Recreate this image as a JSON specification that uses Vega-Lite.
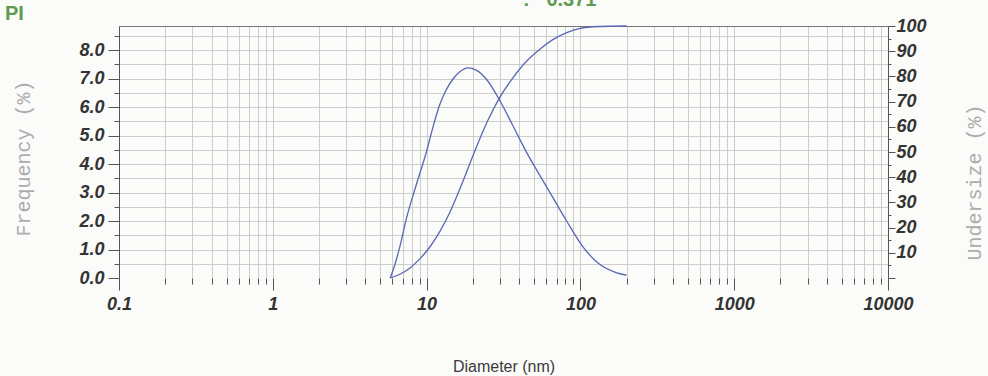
{
  "$schema": "https://vega.github.io/schema/vega-lite/v6.json",
  "width": 769,
  "height": 252,
  "autosize": "none",
  "padding": {"left": 119, "top": 26, "right": 100, "bottom": 98},
  "background": "#fbfbf9",
  "view": {"stroke": null},
  "datasets": {
    "freq": [
      {"d": 5.8, "f": 0},
      {"d": 6.2, "f": 0.45},
      {"d": 6.7, "f": 1.1},
      {"d": 7.4, "f": 2.1},
      {"d": 8.6, "f": 3.3},
      {"d": 10, "f": 4.45},
      {"d": 11, "f": 5.3},
      {"d": 12.1, "f": 6.05},
      {"d": 13.4, "f": 6.6},
      {"d": 14.8, "f": 6.98},
      {"d": 16.5, "f": 7.25},
      {"d": 18.5, "f": 7.38},
      {"d": 21, "f": 7.3},
      {"d": 24.5, "f": 6.98},
      {"d": 29.8, "f": 6.25},
      {"d": 36, "f": 5.4},
      {"d": 44.6, "f": 4.42},
      {"d": 60, "f": 3.22},
      {"d": 81, "f": 2.02},
      {"d": 103, "f": 1.12},
      {"d": 132, "f": 0.5},
      {"d": 169, "f": 0.2},
      {"d": 200, "f": 0.1}
    ],
    "under": [
      {"d": 5.8, "u": 0},
      {"d": 6.7, "u": 1.5},
      {"d": 7.8, "u": 4},
      {"d": 9, "u": 7.5},
      {"d": 10.5, "u": 12.3},
      {"d": 12.2, "u": 18.5},
      {"d": 14.1, "u": 25.8},
      {"d": 16.5, "u": 35.5},
      {"d": 19, "u": 45},
      {"d": 21.1, "u": 52},
      {"d": 25, "u": 62.5},
      {"d": 29.8, "u": 71.5},
      {"d": 36, "u": 79},
      {"d": 44.6, "u": 86},
      {"d": 55, "u": 91},
      {"d": 65.8, "u": 94.5},
      {"d": 80, "u": 97.2},
      {"d": 98, "u": 99},
      {"d": 132, "u": 99.8},
      {"d": 200, "u": 100}
    ]
  },
  "layer": [
    {
      "data": {"name": "freq"},
      "mark": {"type": "line", "interpolate": "monotone", "color": "#5a67b5", "strokeWidth": 1.3},
      "encoding": {
        "x": {
          "field": "d",
          "type": "quantitative",
          "scale": {"type": "log", "domain": [0.1, 10000]},
          "axis": {
            "values": [0.1, 0.2, 0.3, 0.4, 0.5, 0.6, 0.7, 0.8, 0.9, 1, 2, 3, 4, 5, 6, 7, 8, 9, 10, 20, 30, 40, 50, 60, 70, 80, 90, 100, 200, 300, 400, 500, 600, 700, 800, 900, 1000, 2000, 3000, 4000, 5000, 6000, 7000, 8000, 9000, 10000],
            "format": "~g",
            "labelExpr": "abs(log(datum.value)/LN10 - round(log(datum.value)/LN10)) < 0.001 ? datum.label : ''",
            "labelOverlap": false,
            "labelFlush": false,
            "labelFont": "Liberation Sans",
            "labelFontStyle": "italic",
            "labelFontWeight": "bold",
            "labelFontSize": 18,
            "labelColor": "#333333",
            "labelPadding": 5,
            "grid": true,
            "gridColor": "#c2c2c2",
            "gridWidth": 0.8,
            "domain": false,
            "ticks": true,
            "tickColor": "#555555",
            "tickSize": {"condition": {"test": "abs(log(datum.value)/LN10 - round(log(datum.value)/LN10)) < 0.001", "value": 12}, "value": 6},
            "title": "Diameter (nm)",
            "titleFont": "Liberation Sans",
            "titleFontWeight": "normal",
            "titleFontSize": 16,
            "titleColor": "#3a3a3a",
            "titlePadding": 45
          }
        },
        "y": {
          "field": "f",
          "type": "quantitative",
          "scale": {"domain": [0, 8.85], "nice": false},
          "axis": {
            "values": [0, 0.5, 1, 1.5, 2, 2.5, 3, 3.5, 4, 4.5, 5, 5.5, 6, 6.5, 7, 7.5, 8, 8.5],
            "format": ".1f",
            "labelExpr": "datum.value % 1 === 0 ? datum.label : ''",
            "labelOverlap": false,
            "labelFont": "Liberation Sans",
            "labelFontStyle": "italic",
            "labelFontWeight": "bold",
            "labelFontSize": 18,
            "labelColor": "#333333",
            "labelPadding": 4,
            "grid": true,
            "gridColor": {"condition": {"test": "datum.value === 0", "value": "transparent"}, "value": "#c2c2c2"},
            "gridWidth": 0.8,
            "domain": true,
            "domainColor": "#555555",
            "tickColor": "#555555",
            "tickSize": {"condition": {"test": "datum.value % 1 === 0", "value": 11}, "value": 5},
            "title": "Frequency (%)",
            "titleFont": "Liberation Mono",
            "titleFontWeight": "normal",
            "titleFontSize": 20,
            "titleColor": "#acacac",
            "titlePadding": 45,
            "titleY": 132
          }
        }
      }
    },
    {
      "data": {"name": "under"},
      "mark": {"type": "line", "interpolate": "monotone", "color": "#5a67b5", "strokeWidth": 1.3},
      "encoding": {
        "x": {
          "field": "d",
          "type": "quantitative",
          "scale": {"type": "log", "domain": [0.1, 10000]},
          "axis": {"orient": "top", "labels": false, "ticks": false, "grid": false, "domain": true, "domainColor": "#777777", "title": null}
        },
        "y": {
          "field": "u",
          "type": "quantitative",
          "scale": {"domain": [0, 100], "nice": false},
          "axis": {
            "orient": "right",
            "values": [0, 5, 10, 15, 20, 25, 30, 35, 40, 45, 50, 55, 60, 65, 70, 75, 80, 85, 90, 95, 100],
            "labelExpr": "datum.value % 10 === 0 && datum.value > 0 ? datum.label : ''",
            "labelOverlap": false,
            "labelFont": "Liberation Sans",
            "labelFontStyle": "italic",
            "labelFontWeight": "bold",
            "labelFontSize": 18,
            "labelColor": "#333333",
            "labelPadding": 1,
            "grid": false,
            "domain": true,
            "domainColor": "#555555",
            "tickColor": "#555555",
            "tickSize": {"condition": {"test": "datum.value % 10 === 0", "value": 7}, "value": 3},
            "title": "Undersize (%)",
            "titleFont": "Liberation Mono",
            "titleFontWeight": "normal",
            "titleFontSize": 20,
            "titleColor": "#acacac",
            "titleAngle": 270,
            "titlePadding": 58,
            "titleY": 156
          }
        }
      }
    },
    {
      "data": {"values": [{}]},
      "mark": {"type": "text", "align": "left", "baseline": "alphabetic", "font": "Liberation Sans", "fontWeight": "bold", "fontSize": 20, "color": "#5f9a50"},
      "encoding": {
        "x": {"datum": 42.4, "type": "quantitative", "scale": {"type": "log", "domain": [0.1, 10000]}, "axis": null},
        "y": {"datum": 9.55, "type": "quantitative", "scale": {"domain": [0, 8.85], "nice": false}, "axis": null},
        "text": {"value": ":\u00a0\u00a0\u00a00.371"}
      }
    },
    {
      "data": {"values": [{}]},
      "mark": {"type": "text", "align": "left", "baseline": "alphabetic", "font": "Liberation Sans", "fontWeight": "bold", "fontSize": 20, "color": "#5f9a50"},
      "encoding": {
        "x": {"datum": 0.01815, "type": "quantitative", "scale": {"type": "log", "domain": [0.1, 10000]}, "axis": null},
        "y": {"datum": 9.06, "type": "quantitative", "scale": {"domain": [0, 8.85], "nice": false}, "axis": null},
        "text": {"value": "PI"}
      }
    }
  ],
  "resolve": {"scale": {"y": "independent"}, "axis": {"x": "independent"}}
}
